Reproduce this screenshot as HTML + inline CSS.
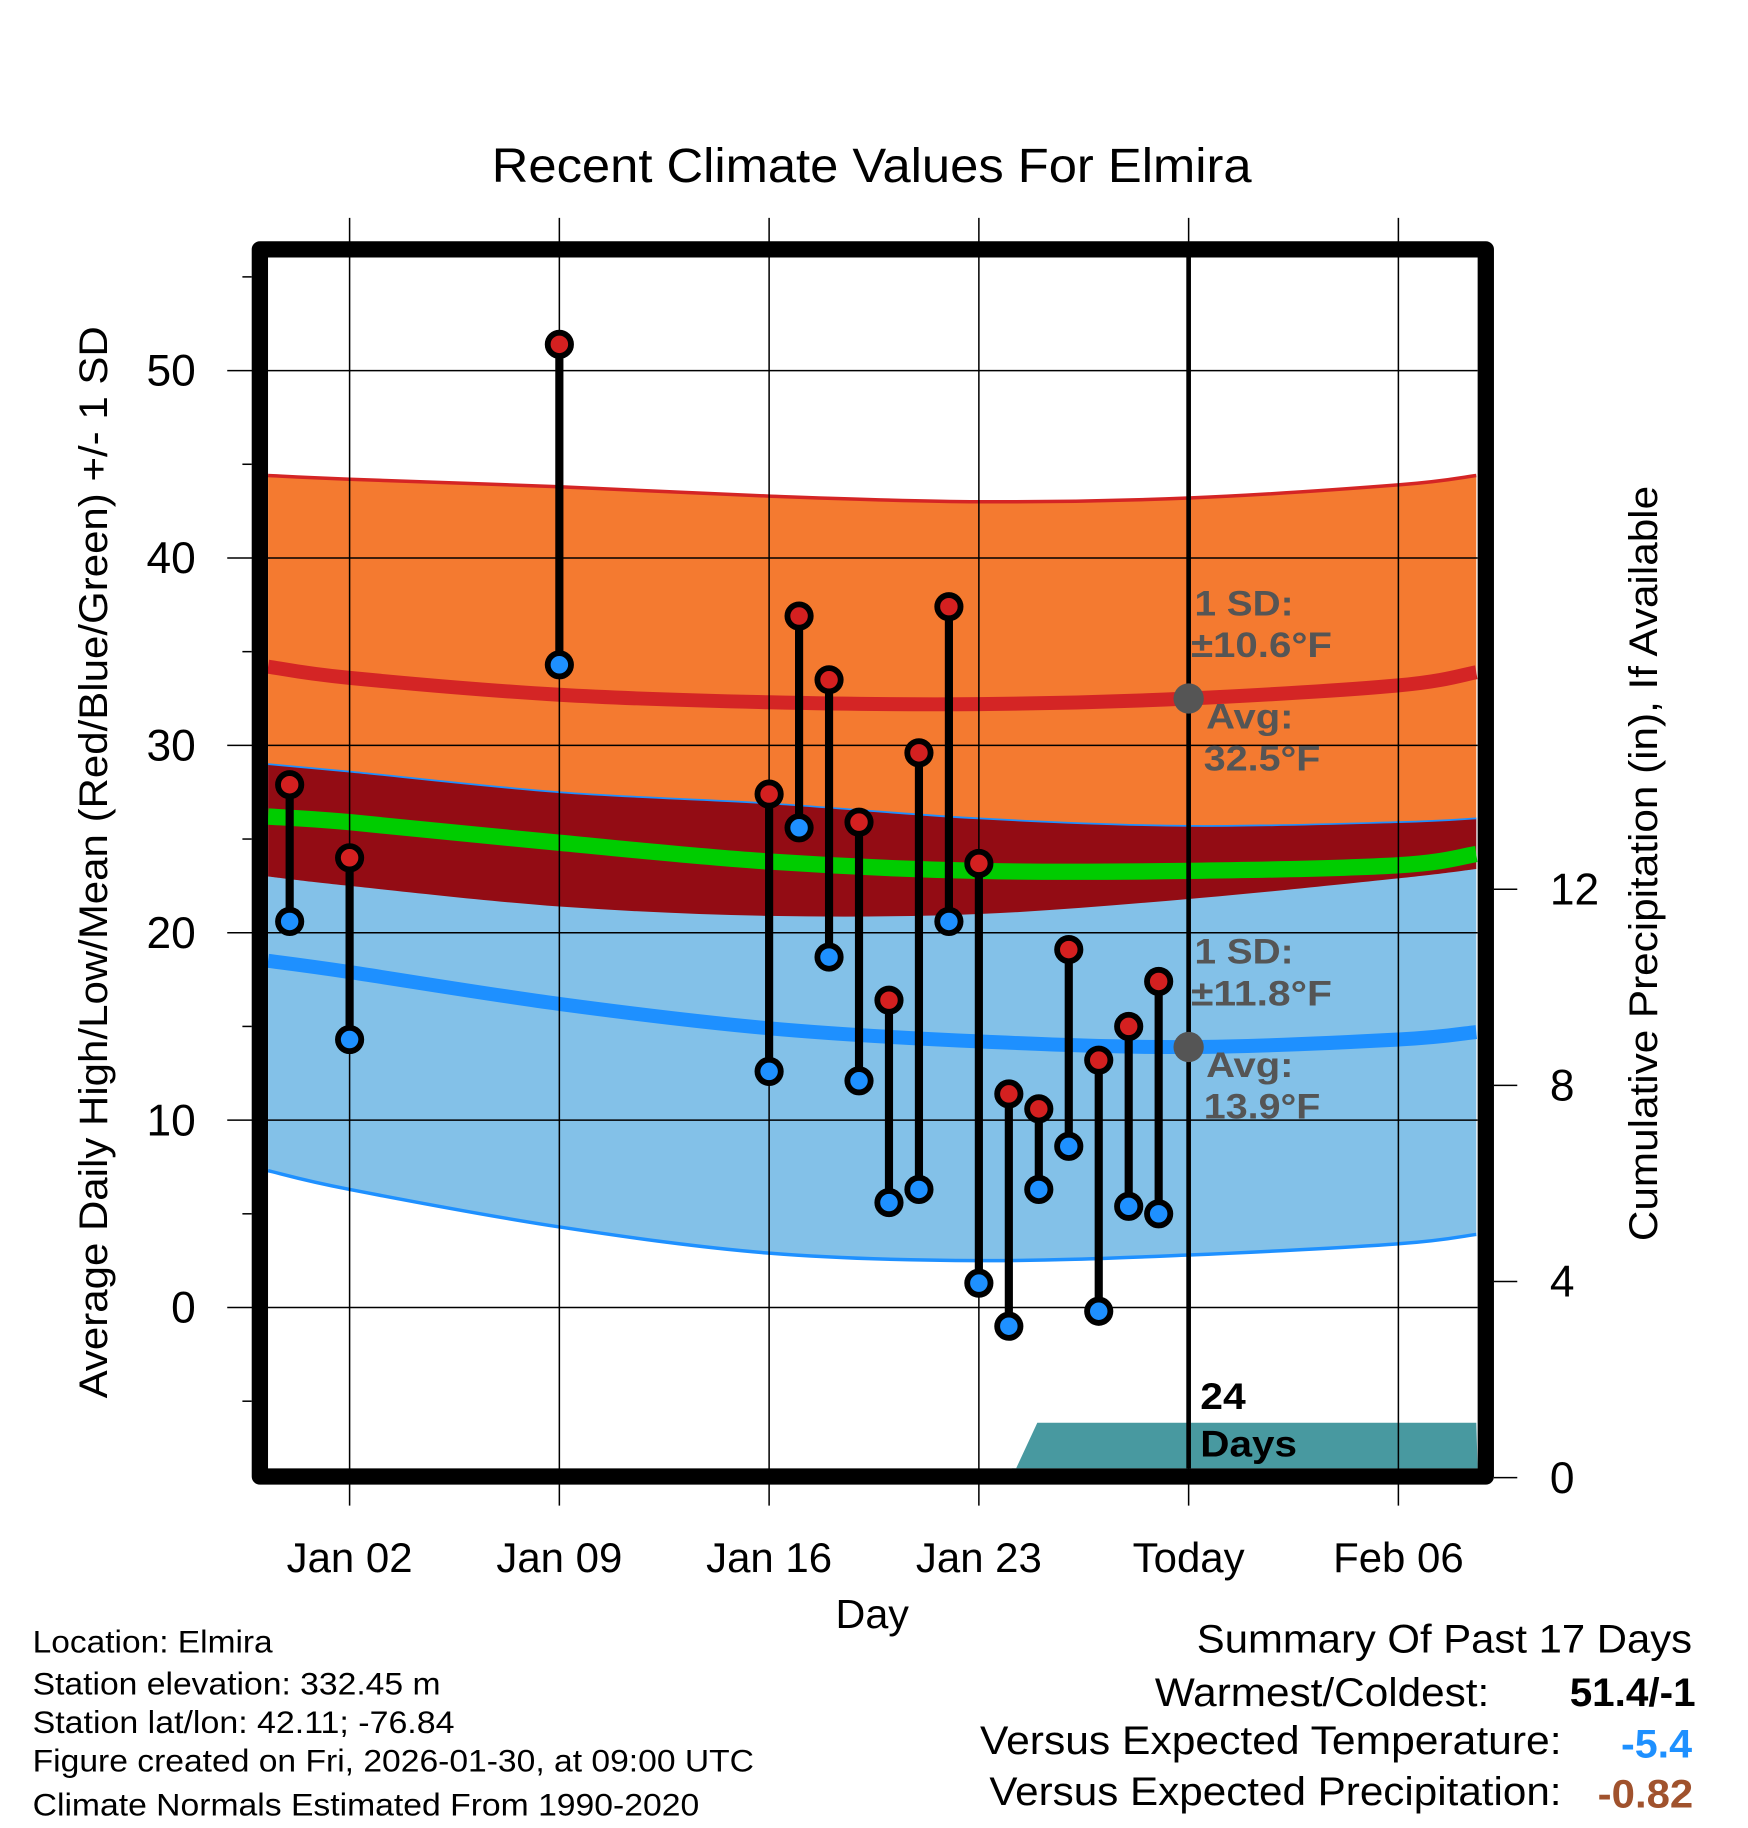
<!DOCTYPE html>
<html><head><meta charset="utf-8"><style>
html,body{margin:0;padding:0;background:#fff;}
svg{display:block;font-family:"Liberation Sans",sans-serif;}
</style></head><body>
<svg id="chart" width="1748" height="1828" viewBox="0 0 1500 1568.65" preserveAspectRatio="none" xmlns="http://www.w3.org/2000/svg">
<g id="bands"></g>
<g id="grid"></g>
<g id="marks"></g>
<g id="axes"></g>
<text x="422" y="156" font-size="41" textLength="652" lengthAdjust="spacingAndGlyphs">Recent Climate Values For Elmira</text>
<text x="717" y="1397" font-size="35" textLength="63" lengthAdjust="spacingAndGlyphs">Day</text>
<text transform="translate(92,1200) rotate(-90)" font-size="34" textLength="920" lengthAdjust="spacingAndGlyphs">Average Daily High/Low/Mean (Red/Blue/Green) +/- 1 SD</text>
<text transform="translate(1422,1065) rotate(-90)" font-size="34" textLength="648" lengthAdjust="spacingAndGlyphs">Cumulative Precipitation (in), If Available</text>
<g fill="#555" font-weight="bold" font-size="30">
<text x="1025" y="528" textLength="85" lengthAdjust="spacingAndGlyphs">1 SD:</text><text x="1022" y="564" textLength="121" lengthAdjust="spacingAndGlyphs">±10.6°F</text>
<text x="1035" y="625" textLength="75" lengthAdjust="spacingAndGlyphs">Avg:</text><text x="1033" y="661" textLength="100" lengthAdjust="spacingAndGlyphs">32.5°F</text></g>
<g fill="#555" font-weight="bold" font-size="30">
<text x="1025" y="827" textLength="85" lengthAdjust="spacingAndGlyphs">1 SD:</text><text x="1022" y="863" textLength="121" lengthAdjust="spacingAndGlyphs">±11.8°F</text>
<text x="1035" y="924" textLength="75" lengthAdjust="spacingAndGlyphs">Avg:</text><text x="1033" y="960" textLength="100" lengthAdjust="spacingAndGlyphs">13.9°F</text></g>
<g font-weight="bold" font-size="32">
<text x="1030" y="1209" textLength="39" lengthAdjust="spacingAndGlyphs">24</text><text x="1030" y="1250" textLength="83" lengthAdjust="spacingAndGlyphs">Days</text></g>
<g font-size="27" lengthAdjust="spacingAndGlyphs">
<text x="28" y="1418" textLength="206" lengthAdjust="spacingAndGlyphs">Location: Elmira</text>
<text x="28" y="1454" textLength="350" lengthAdjust="spacingAndGlyphs">Station elevation: 332.45 m</text>
<text x="28" y="1487" textLength="362" lengthAdjust="spacingAndGlyphs">Station lat/lon: 42.11; -76.84</text>
<text x="28" y="1520" textLength="619" lengthAdjust="spacingAndGlyphs">Figure created on Fri, 2026-01-30, at 09:00 UTC</text>
<text x="28" y="1558" textLength="572" lengthAdjust="spacingAndGlyphs">Climate Normals Estimated From 1990-2020</text></g>
<g font-size="34">
<text x="1027" y="1418" textLength="425" lengthAdjust="spacingAndGlyphs">Summary Of Past 17 Days</text>
<text x="991" y="1464" textLength="287" lengthAdjust="spacingAndGlyphs">Warmest/Coldest:</text>
<text x="1347" y="1464" font-weight="bold" textLength="108" lengthAdjust="spacingAndGlyphs">51.4/-1</text>
<text x="841" y="1505" textLength="499" lengthAdjust="spacingAndGlyphs">Versus Expected Temperature:</text>
<text x="1391" y="1508" font-weight="bold" fill="#1e90ff" textLength="61" lengthAdjust="spacingAndGlyphs">-5.4</text>
<text x="849" y="1549" textLength="491" lengthAdjust="spacingAndGlyphs">Versus Expected Precipitation:</text>
<text x="1371" y="1551" font-weight="bold" fill="#a0522d" textLength="82" lengthAdjust="spacingAndGlyphs">-0.82</text></g>
</svg>
<script>
const days=[0,2,9,16,17,18,19,20,21,22,23,24,25,26,27,28,29];
const highs=[27.9,24.0,51.4,27.4,36.9,33.5,25.9,16.4,29.6,37.4,23.7,11.4,10.6,19.1,13.2,15.0,17.4];
const lows=[20.6,14.3,34.3,12.6,25.6,18.7,12.1,5.6,6.3,20.6,1.3,-1.0,6.3,8.6,-0.2,5.4,5.0];
const normDays=[-0.72,2,9,16,23,30,37,39.6];
const highUpper=[44.4,44.2,43.8,43.3,43.0,43.2,43.9,44.4];
const highAvg=[34.2,33.6,32.7,32.3,32.2,32.5,33.2,33.9];
const highLower=[23.0,22.5,21.4,20.9,21.0,21.8,22.9,23.4];
const lowUpper=[29.0,28.6,27.5,26.9,26.1,25.7,25.9,26.1];
const lowAvg=[18.5,17.9,16.2,14.9,14.2,13.9,14.3,14.7];
const lowLower=[7.3,6.3,4.3,2.9,2.5,2.8,3.4,3.9];
const meanAvg=[26.2,25.9,24.8,23.8,23.3,23.3,23.6,24.2];
const precipDays=[24.1,24.95,39.6];
const precipVals=[0,1.12,1.12];
const yTicks=[0,10,20,30,40,50];
const y2Ticks=[0,4,8,12];
const xTickDays=[2,9,16,23,30,37];
const xTickLabels=["Jan 02","Jan 09","Jan 16","Jan 23","Today","Feb 06"];

const L=230,R=1268,T=221,B=1260;
const x=d=>300+(d-2)*25.714;
const y=v=>1122-16.08*v;
const y2=v=>1268-42.08*v;
const NS="http://www.w3.org/2000/svg";
function mk(tag,parent,attrs){const e=document.createElementNS(NS,tag);for(const k in attrs)e.setAttribute(k,attrs[k]);parent.appendChild(e);return e;}
function smooth(xs,ys){
  const pts=xs.map((d,i)=>[x(d),y(ys[i])]);
  let s="M"+pts[0][0]+","+pts[0][1];
  for(let i=0;i<pts.length-1;i++){
    const p0=pts[Math.max(0,i-1)],p1=pts[i],p2=pts[i+1],p3=pts[Math.min(pts.length-1,i+2)];
    s+=` C${p1[0]+(p2[0]-p0[0])/6},${p1[1]+(p2[1]-p0[1])/6} ${p2[0]-(p3[0]-p1[0])/6},${p2[1]-(p3[1]-p1[1])/6} ${p2[0]},${p2[1]}`;
  }
  return s;
}
function rev(xs,ys){return smooth(xs.slice().reverse(),ys.slice().reverse()).replace(/^M/,"L");}
function band(upper,lower){return smooth(normDays,upper)+" "+rev(normDays,lower)+" Z";}
const bands=document.getElementById('bands');
const b1=mk('path',bands,{d:band(highUpper,lowUpper),fill:'#f47a30'});


const b2=mk('path',bands,{d:band(lowUpper,lowLower),fill:'#83c1e8'});


const b3=mk('path',bands,{d:band(lowUpper,highLower),fill:'#930c14'});


const e1=mk('path',bands,{d:smooth(normDays,highUpper),fill:'none',stroke:'#d42525','stroke-width':3});


const e2=mk('path',bands,{d:smooth(normDays,lowLower),fill:'none',stroke:'#1e90ff','stroke-width':3});


const e3=mk('path',bands,{d:smooth(normDays,lowUpper),fill:'none',stroke:'#1e90ff','stroke-width':1.5});


const l1=mk('path',bands,{d:smooth(normDays,highAvg),fill:'none',stroke:'#d42525','stroke-width':12});


const l2=mk('path',bands,{d:smooth(normDays,lowAvg),fill:'none',stroke:'#1e90ff','stroke-width':12});


const l3=mk('path',bands,{d:smooth(normDays,meanAvg),fill:'none',stroke:'#00cc00','stroke-width':14});


let pd=`M${x(precipDays[0])},${B}`;
precipDays.forEach((d,i)=>{pd+=` L${Math.min(x(d),R)},${y2(precipVals[i])}`;});
pd+=` L${R},${B} Z`;
const pr=mk('path',bands,{d:pd,fill:'#4899a0'});



const grid=document.getElementById('grid');
yTicks.forEach(v=>{
  const g=mk('line',grid,{x1:195,x2:R,y1:y(v),y2:y(v),stroke:'#000','stroke-width':1.3});
  
  
  const t=mk('text',grid,{x:168,y:y(v)+13,'font-size':38,'text-anchor':'end'});t.textContent=v;
  
  
});
for(let v=-5;v<=55;v+=10){
  const m=mk('line',grid,{x1:208,x2:216,y1:y(v),y2:y(v),stroke:'#000','stroke-width':1.3});
  
  
}
xTickDays.forEach((d,i)=>{
  const g=mk('line',grid,{x1:x(d),x2:x(d),y1:187,y2:1292,stroke:'#000','stroke-width':1.3});
  
  
  const t=mk('text',grid,{x:x(d),y:1349,'font-size':36,'text-anchor':'middle'});t.textContent=xTickLabels[i];
  
  
});
const today=mk('line',grid,{x1:x(30),x2:x(30),y1:T,y2:B,stroke:'#000','stroke-width':4});


y2Ticks.forEach(v=>{
  const g=mk('line',grid,{x1:1282,x2:1302,y1:y2(v),y2:y2(v),stroke:'#000','stroke-width':1.3});
  
  
  const t=mk('text',grid,{x:1330,y:y2(v)+13,'font-size':38});t.textContent=v;
  
  
});

const marks=document.getElementById('marks');
days.forEach((d,i)=>{
  const s=mk('line',marks,{x1:x(d),x2:x(d),y1:y(highs[i]),y2:y(lows[i]),stroke:'#000','stroke-width':7});
  
  
  const h=mk('circle',marks,{cx:x(d),cy:y(highs[i]),r:10,fill:'#d42020',stroke:'#000','stroke-width':5});
  
  
  const lo=mk('circle',marks,{cx:x(d),cy:y(lows[i]),r:10,fill:'#1e90ff',stroke:'#000','stroke-width':5});
  
  
});
const d1=mk('circle',marks,{cx:x(30),cy:y(highAvg[5]),r:13,fill:'#555'});


const d2=mk('circle',marks,{cx:x(30),cy:y(lowAvg[5]),r:13,fill:'#555'});



const axes=document.getElementById('axes');
const fr=mk('rect',axes,{x:223,y:214,width:1052,height:1053,fill:'none',stroke:'#000','stroke-width':14,'stroke-linejoin':'round'});


</script>
</body></html>
